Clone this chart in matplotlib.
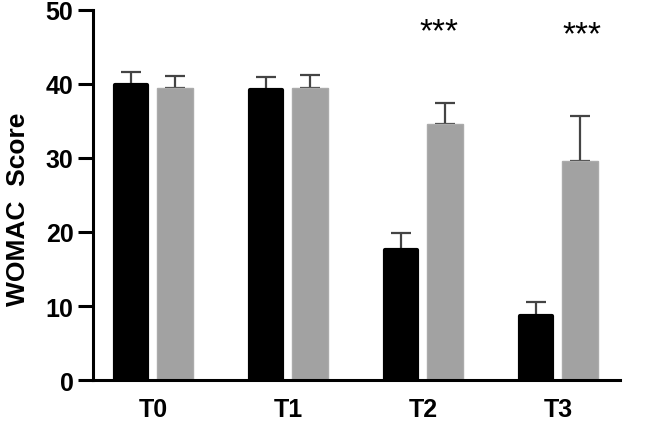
import matplotlib
matplotlib.use("Agg")
import matplotlib.pyplot as plt
import numpy as np

plt.rcParams['font.family'] = ['Liberation Sans', 'DejaVu Sans']

groups = ['T0', 'T1', 'T2', 'T3']
black_vals = [39.8, 39.2, 17.5, 8.7]
black_err = [1.8, 1.7, 2.4, 1.8]
gray_vals = [39.5, 39.4, 34.6, 29.6]
gray_err = [1.6, 1.8, 2.8, 6.1]
stars = ['', '', '***', '***']

fig = plt.figure(figsize=(6.5, 4.35), dpi=100)
ax = fig.add_axes([0.143, 0.124, 0.811, 0.851])

x = np.arange(len(groups))
w = 0.265
off = 0.165
errkw = dict(ecolor='#444444', elinewidth=1.6, capsize=7, capthick=1.6)

# black bars: thick round-joined edge gives the rounded corners
ax.bar(x - off, black_vals, w - 0.03, color='black', edgecolor='black',
       linewidth=3, joinstyle='round', zorder=2)
ax.errorbar(x - off, black_vals, yerr=[np.zeros(4), black_err], fmt='none',
            zorder=1, **errkw)
ax.bar(x + off, gray_vals, w, color='#a2a2a2', edgecolor='#ababab',
       linewidth=1, zorder=2)
ax.errorbar(x + off, gray_vals, yerr=[np.zeros(4), gray_err], fmt='none',
            zorder=1, **errkw)

# significance marks
star_x = [0, 0, 2.115, 3.18]
star_y = [0, 0, 45.9, 45.5]
for i, s in enumerate(stars):
    if s:
        ax.text(star_x[i], star_y[i], s, ha='center', va='baseline', fontsize=24)

ax.set_xlim(-0.445, 3.46)
ax.set_ylim(0, 50)
ax.set_yticks([0, 10, 20, 30, 40, 50])
ax.set_xticks(x)
ax.set_xticklabels(groups, fontsize=18, fontweight='bold')
ax.tick_params(axis='x', length=0, pad=12)
ax.tick_params(axis='y', length=11, width=2.2, labelsize=18, pad=3)
for lab in ax.get_yticklabels():
    lab.set_fontweight('bold')
ax.set_ylabel('WOMAC  Score', fontsize=19, fontweight='bold')
ax.yaxis.set_label_coords(-0.12, 0.465)

for side in ['top', 'right']:
    ax.spines[side].set_visible(False)
for side in ['left', 'bottom']:
    ax.spines[side].set_linewidth(2.2)

fig.savefig('out.png', dpi=100)
